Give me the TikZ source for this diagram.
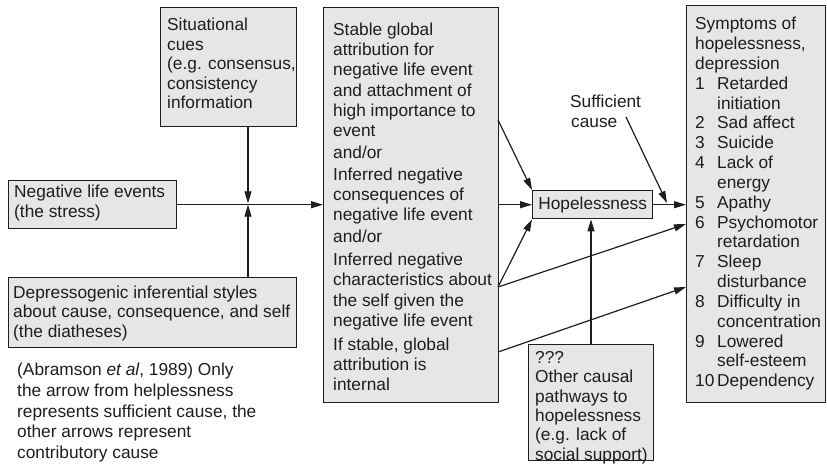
\documentclass[tikz,border=0pt]{standalone}
\usepackage{fontspec}
\setmainfont{Liberation Sans}
\usetikzlibrary{arrows.meta}
\definecolor{boxfill}{RGB}{230,230,232}
\definecolor{ink}{RGB}{30,30,30}

\begin{document}
\begin{tikzpicture}[x=1pt,y=-1pt,
  box/.style={draw=ink, line width=1.4pt, fill=boxfill, inner sep=0pt, anchor=north west},
  txt/.style={inner sep=0pt, anchor=north west, align=left, text=ink,
              font=\fontsize{17.3}{19.8}\selectfont},
  arr/.style={draw=ink, line width=1.2pt, -{Triangle[length=12pt,width=7pt]}}]
\useasboundingbox (0,0) rectangle (827,464);

% boxes
\node[box, minimum width=136pt, minimum height=119pt] (sit) at (160,7) {};
\node[box, minimum width=168pt, minimum height=48pt]  (neg) at (8,180) {};
\node[box, minimum width=288pt, minimum height=70pt]  (dep) at (8,277) {};
\node[box, minimum width=175pt, minimum height=395pt] (mid) at (323,7) {};
\node[box, minimum width=120pt, minimum height=28pt]  (hope) at (532,190) {};
\node[box, minimum width=139pt, minimum height=397pt] (sym) at (686,5) {};
\node[box, minimum width=125pt, minimum height=116pt] (oth) at (528,344) {};

% texts
\node[txt, font=\fontsize{17.3}{19.5}\selectfont] (sittxt) at (167,18)
  {Situational\\cues\\(e.g. consensus,\\consistency\\information};
\node[txt] (negtxt) at (14,185) {Negative life events\\(the stress)};
\node[txt, font=\fontsize{17.3}{19.2}\selectfont] (deptxt) at (13,286)
  {Depressogenic inferential styles\\about cause, consequence, and self\\(the diatheses)};
\node[txt, font=\fontsize{17.3}{20.7}\selectfont] (note) at (17,363)
  {(Abramson \textit{et al}, 1989) Only\\the arrow from helplessness\\represents sufficient cause, the\\other arrows represent\\contributory cause};
\node[txt, font=\fontsize{17.3}{20.1}\selectfont] (midtxt) at (333,23)
  {Stable global\\attribution for\\negative life event\\and attachment of\\high importance to\\event\\[2pt]
   and/or\\[2pt]Inferred negative\\consequences of\\negative life event\\[2pt]
   and/or\\[3pt]Inferred negative\\characteristics about\\the self given the\\negative life event\\[4pt]
   If stable, global\\attribution is\\internal};
\node[inner sep=0pt, text=ink, font=\fontsize{17.3}{19.8}\selectfont] (hopetxt) at (hope.center) {Hopelessness};
\node[txt, font=\fontsize{17.3}{19.83}\selectfont] (symtxt) at (695,17)
  {Symptoms of\\hopelessness,\\depression\\
   \makebox[22pt][l]{1}Retarded\\\hspace*{22pt}initiation\\
   \makebox[22pt][l]{2}Sad affect\\
   \makebox[22pt][l]{3}Suicide\\
   \makebox[22pt][l]{4}Lack of\\\hspace*{22pt}energy\\
   \makebox[22pt][l]{5}Apathy\\
   \makebox[22pt][l]{6}Psychomotor\\\hspace*{22pt}retardation\\
   \makebox[22pt][l]{7}Sleep\\\hspace*{22pt}disturbance\\
   \makebox[22pt][l]{8}Difficulty in\\\hspace*{22pt}concentration\\
   \makebox[22pt][l]{9}Lowered\\\hspace*{22pt}self-esteem\\
   \makebox[22pt][l]{10}Dependency};
\node[txt, font=\fontsize{17.3}{19.8}\selectfont] (suff) at (570,95) {Sufficient\\\hspace*{1pt}cause};
\node[txt, font=\fontsize{17.3}{19.4}\selectfont] (othtxt) at (535,351)
  {???\\Other causal\\pathways to\\hopelessness\\(e.g. lack of\\social support)};

% connection points
\coordinate (j)  at (248,204);
\coordinate (m1) at (498,120);
\coordinate (m2) at (498,287);
\coordinate (m3) at (498,352);
\coordinate (s1) at (686,224);
\coordinate (s2) at (686,287);
\coordinate (c1) at (626,117);
\coordinate (c2) at (667,203);

% connectors
\draw[arr] (neg.east) -- (neg.east -| mid.west);
\draw[arr, shorten >=0.7pt] (sit.south -| j) -- (j);
\draw[arr, shorten >=0.7pt] (dep.north -| j) -- (j);
\draw[arr] (m1) -- (hope.north west);
\draw[arr] (hope.west -| mid.east) -- (hope.west);
\draw[arr] (m2) -- (hope.south west);
\draw[arr] (m2) -- (s1);
\draw[arr] (m3) -- (s2);
\draw[arr] (hope.east) -- (hope.east -| sym.west);
\draw[arr] (c1) -- (c2);
\draw[arr] (oth.north -| 591,0) -- (hope.south -| 591,0);
\end{tikzpicture}
\end{document}
